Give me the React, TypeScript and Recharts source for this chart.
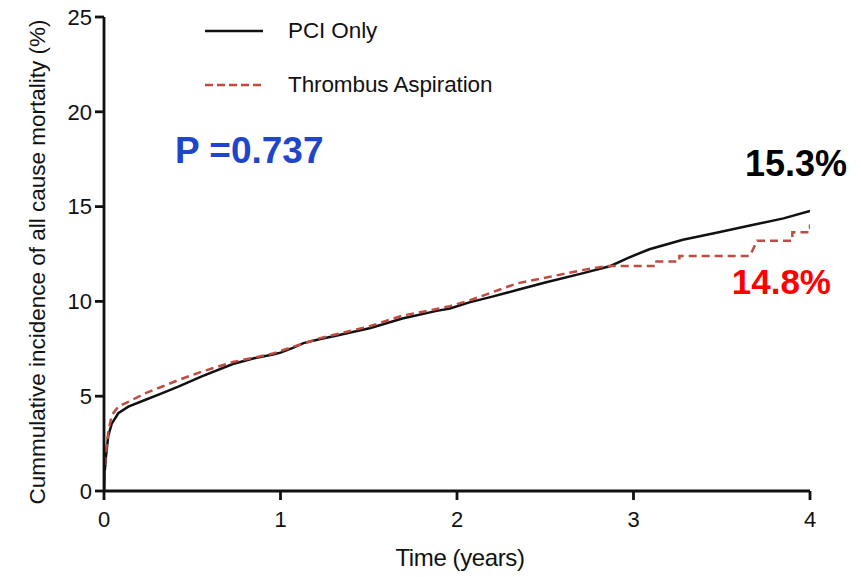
import React from "react";
import { LineChart, Line, XAxis, YAxis, Legend } from "recharts";

const pciTime = [0, 0.004, 0.011, 0.024, 0.044, 0.081, 0.138, 0.232, 0.327, 0.421, 0.554, 0.73, 0.85, 0.957, 1.0, 1.07, 1.13, 1.22, 1.32, 1.51, 1.69, 1.885, 1.96, 2.07, 2.2, 2.34, 2.5, 2.71, 2.87, 2.97, 3.09, 3.28, 3.47, 3.66, 3.85, 4.0];
const pciValue = [0, 1.0, 1.8, 2.9, 3.55, 4.1, 4.45, 4.8, 5.15, 5.5, 6.05, 6.7, 7.0, 7.2, 7.3, 7.55, 7.8, 8.0, 8.2, 8.6, 9.1, 9.5, 9.63, 9.95, 10.25, 10.6, 11.0, 11.48, 11.87, 12.3, 12.75, 13.25, 13.62, 14.0, 14.38, 14.77];

const taTime = [0, 0.004, 0.011, 0.024, 0.044, 0.081, 0.138, 0.232, 0.327, 0.421, 0.554, 0.73, 0.957, 1.07, 1.22, 1.51, 1.69, 1.885, 1.96, 2.07, 2.34, 2.5, 2.71, 2.85, 3.13, 3.13, 3.26, 3.26, 3.66, 3.68, 3.7, 3.9, 3.9, 4.0, 4.0];
const taValue = [0, 1.2, 2.0, 3.1, 4.0, 4.45, 4.7, 5.15, 5.5, 5.85, 6.3, 6.8, 7.25, 7.6, 8.05, 8.7, 9.25, 9.6, 9.75, 10.05, 10.95, 11.25, 11.65, 11.87, 11.87, 12.1, 12.1, 12.4, 12.4, 12.8, 13.2, 13.2, 13.65, 13.65, 14.05];

const xTicks = [0, 1, 2, 3, 4];
const yTicks = [0, 5, 10, 15, 20, 25];

const seriesNames = ["PCI Only", "Thrombus Aspiration"];
const pValueText = "P =0.737";
const pciEndText = "15.3%";
const taEndText = "14.8%";
const xTitle = "Time (years)";
const yTitle = "Cummulative incidence of all cause mortality (%)";

const pciData = pciTime.map((t, i) => ({ t, v: pciValue[i] }));
const taData = taTime.map((t, i) => ({ t, v: taValue[i] }));

const FONT = "'Liberation Sans', Arial, Helvetica, sans-serif";
const BLACK = "#111111";
const RED = "#bf4c43";

const LegendContent = () => (
  <div style={{ fontFamily: FONT }}>
    <div style={{ display: "flex", alignItems: "center", height: 54 }}>
      <svg width={60} height={6} style={{ display: "block" }}>
        <line x1={1} y1={3} x2={59} y2={3} stroke={BLACK} strokeWidth={2.5} />
      </svg>
      <span style={{ marginLeft: 24, fontSize: 22.5, color: "#111", letterSpacing: -0.1 }}>{seriesNames[0]}</span>
    </div>
    <div style={{ display: "flex", alignItems: "center", height: 54 }}>
      <svg width={60} height={6} style={{ display: "block" }}>
        <line x1={1} y1={3} x2={59} y2={3} stroke={RED} strokeWidth={2.5} strokeDasharray="8 4" />
      </svg>
      <span style={{ marginLeft: 24, fontSize: 22.5, color: "#111", letterSpacing: -0.1 }}>{seriesNames[1]}</span>
    </div>
  </div>
);

export default function App() {
  return (
    <div style={{ position: "absolute", left: 0, top: 0, width: 861, height: 577, background: "#fff" }}>
      <LineChart
        width={861}
        height={577}
        margin={{ top: 17, right: 51, left: 0, bottom: 0 }}
        style={{ fontFamily: FONT }}
      >
        <XAxis
          type="number"
          dataKey="t"
          domain={[0, 4]}
          ticks={xTicks}
          allowDataOverflow
          height={86}
          stroke={BLACK}
          strokeWidth={2.8}
          tickSize={9}
          tickMargin={11}
          tick={{ fill: "#111", fontSize: 22, fontFamily: FONT }}
        />
        <YAxis
          type="number"
          dataKey="v"
          domain={[0, 25]}
          ticks={yTicks}
          width={104}
          stroke={BLACK}
          strokeWidth={2.8}
          tickSize={9}
          tickMargin={3}
          tick={{ fill: "#111", fontSize: 22, fontFamily: FONT }}
        />
        <Legend
          layout="vertical"
          verticalAlign="middle"
          align="center"
          content={<LegendContent />}
          wrapperStyle={{ position: "absolute", left: 204, top: 4, width: 320, height: 108 }}
        />
        <Line
          data={pciData}
          dataKey="v"
          name={seriesNames[0]}
          type="linear"
          stroke={BLACK}
          strokeWidth={2.5}
          dot={false}
          isAnimationActive={false}
        />
        <Line
          data={taData}
          dataKey="v"
          name={seriesNames[1]}
          type="linear"
          stroke={RED}
          strokeWidth={2.5}
          strokeDasharray="8 5"
          dot={false}
          isAnimationActive={false}
        />
      </LineChart>
      <svg
        width={861}
        height={577}
        style={{ position: "absolute", left: 0, top: 0, pointerEvents: "none" }}
      >
        <text x={175} y={163} fontFamily={FONT} fontWeight="bold" fontSize={37} fill="#1f45cc">
          {pValueText}
        </text>
        <text x={847} y={176} textAnchor="end" fontFamily={FONT} fontWeight="bold" fontSize={36} fill="#000">
          {pciEndText}
        </text>
        <text x={831} y={294} textAnchor="end" fontFamily={FONT} fontWeight="bold" fontSize={35} fill="#ff0000">
          {taEndText}
        </text>
        <text x={460} y={566} textAnchor="middle" fontFamily={FONT} fontSize={24} fill="#111" letterSpacing={-0.4}>
          {xTitle}
        </text>
        <text
          x={0}
          y={0}
          transform="translate(45,262) rotate(-90)"
          textAnchor="middle"
          fontFamily={FONT}
          fontSize={22.5}
          fill="#111"
        >
          {yTitle}
        </text>
      </svg>
    </div>
  );
}
